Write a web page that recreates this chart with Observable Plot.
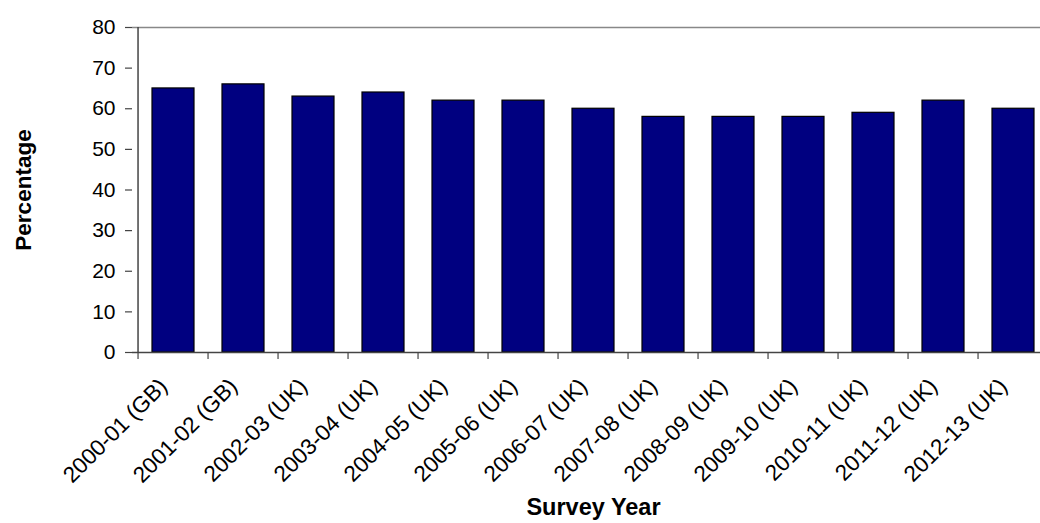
<!DOCTYPE html>
<html>
<head>
<meta charset="utf-8">
<script src="https://cdn.jsdelivr.net/npm/d3@7"></script>
<script src="https://cdn.jsdelivr.net/npm/@observablehq/plot@0.6"></script>
<style>
  html, body { margin: 0; padding: 0; background: #fff; overflow: hidden; }
  #chart { width: 1040px; height: 523px; overflow: hidden; }
  #chart svg { overflow: hidden; }
</style>
</head>
<body>
<div id="chart"></div>
<script>
const years = ["2000-01 (GB)", "2001-02 (GB)", "2002-03 (UK)", "2003-04 (UK)", "2004-05 (UK)", "2005-06 (UK)", "2006-07 (UK)", "2007-08 (UK)", "2008-09 (UK)", "2009-10 (UK)", "2010-11 (UK)", "2011-12 (UK)", "2012-13 (UK)"];
const percentages = [65, 66, 63, 64, 62, 62, 60, 58, 58, 58, 59, 62, 60];
const yTicks = [0, 10, 20, 30, 40, 50, 60, 70, 80];
const xTitle = "Survey Year";
const yTitle = "Percentage";

const data = years.map((year, i) => ({ year, value: percentages[i] }));

const W = 1040, H = 523;
const mL = 132, mR = -14, mT = 27, mB = 171;
const step = (W - mR - mL) / years.length;
const font = "Liberation Sans, Arial, Helvetica, sans-serif";

const chart = Plot.plot({
  width: W,
  height: H,
  marginLeft: mL,
  marginRight: mR,
  marginTop: mT,
  marginBottom: mB,
  style: { fontFamily: font, background: "#fff", color: "#000" },
  x: { domain: years, paddingInner: 0.394, paddingOuter: 0.197, axis: null, label: null },
  y: { domain: [0, 80], axis: null, label: null },
  marks: [
    Plot.ruleY([80], { stroke: "#888", strokeWidth: 1.5 }),
    Plot.barY(data, { x: "year", y: "value", fill: "#000080", stroke: "#000", strokeWidth: 1.2 }),
    Plot.ruleY([0], { stroke: "#444", strokeWidth: 1.5 }),
    Plot.ruleX([years[0]], { dx: -step / 2, stroke: "#444", strokeWidth: 1.5 }),
    Plot.axisY({ ticks: yTicks, tickSize: 7, tickPadding: 10, fontSize: 21, stroke: "#444", strokeWidth: 1.2, label: null }),
    Plot.axisX({ ticks: years, tickSize: 7, tickFormat: () => "", dx: -step / 2, stroke: "#444", strokeWidth: 1.2, label: null }),
    Plot.axisX({ ticks: years, tickSize: 0, tickPadding: 30, tickRotate: -45, fontSize: 22.5, dx: -10, label: null }),
    Plot.text([yTitle], { frameAnchor: "left", dx: -109, rotate: -90, fontSize: 22.5, fontWeight: "bold", textAnchor: "middle" }),
    Plot.text([xTitle], { frameAnchor: "bottom", dy: 162, fontSize: 23.5, fontWeight: "bold", textAnchor: "middle" })
  ]
});
document.getElementById("chart").appendChild(chart);
</script>
</body>
</html>
